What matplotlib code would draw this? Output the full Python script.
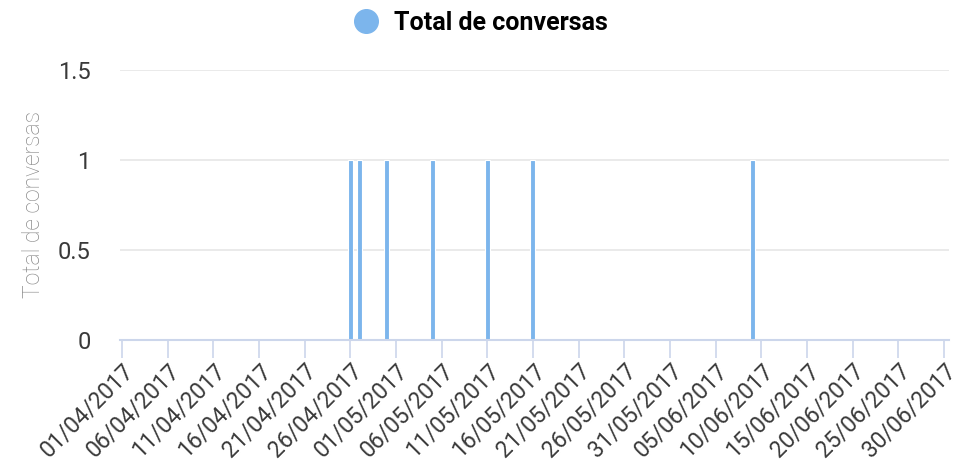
import matplotlib
matplotlib.use('Agg')
import matplotlib.pyplot as plt
import matplotlib.dates as mdates
from matplotlib.lines import Line2D
import pandas as pd

# dados
datas = ['2017-04-26', '2017-04-27', '2017-04-30', '2017-05-05',
         '2017-05-11', '2017-05-16', '2017-06-09']
conversas = [1, 1, 1, 1, 1, 1, 1]
inicio, fim = '2017-04-01', '2017-06-30'
serie_nome = 'Total de conversas'

plt.rcParams['font.family'] = ['Roboto', 'DejaVu Sans']

datas = pd.to_datetime(datas)
ticks = pd.date_range(inicio, fim, freq='5D')

fig = plt.figure(figsize=(9.62, 4.62), dpi=100)
ax = fig.add_axes([0.1247, 0.2641, 0.8618, 0.5844])

cor = '#7cb5ec'
ax.bar(datas, conversas, width=0.55, color=cor, edgecolor='white', linewidth=0.8, zorder=3)

ax.set_ylim(0, 1.5)
ax.set_yticks([0, 0.5, 1, 1.5])
ax.set_yticklabels(['0', '0.5', '1', '1.5'])
ax.set_xlim(pd.Timestamp(inicio) - pd.Timedelta(hours=5), pd.Timestamp(fim) + pd.Timedelta(hours=13))
ax.set_xticks(ticks)
ax.xaxis.set_major_formatter(mdates.DateFormatter('%d/%m/%Y'))

ax.grid(axis='y', color='#e6e6e6', linewidth=1.2, zorder=0)
for s in ['top', 'right', 'left']:
    ax.spines[s].set_visible(False)
ax.spines['bottom'].set_color('#ccd6eb')
ax.spines['bottom'].set_linewidth(1.5)
ax.spines['bottom'].set_zorder(4)

ax.tick_params(axis='y', length=0, pad=21, labelsize=17, labelcolor='#3a3a3a')
ax.tick_params(axis='x', length=13, width=1.2, color='#ccd6eb', pad=1,
               labelsize=16.5, labelcolor='#3a3a3a')
for lbl in ax.get_xticklabels():
    lbl.set_rotation(45)
    lbl.set_ha('right')
    lbl.set_rotation_mode('anchor')

ax.set_ylabel(serie_nome, fontsize=16.5, color='#8a8a8a', fontweight='light', labelpad=9)

handle = Line2D([], [], marker='o', linestyle='none', markersize=17, color=cor)
fig.legend([handle], [serie_nome], loc='upper center', bbox_to_anchor=(0.493, 1.025),
           frameon=False, handletextpad=0.1,
           prop={'family': 'Roboto', 'weight': 'bold', 'size': 18})

fig.savefig('out.png', dpi=100)
